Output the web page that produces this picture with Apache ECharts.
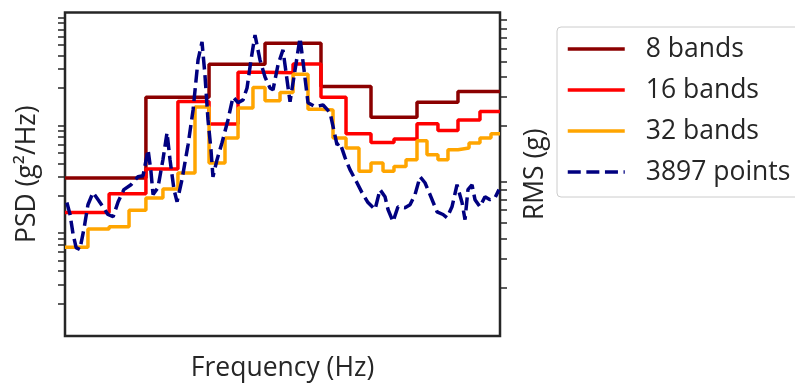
<!DOCTYPE html>
<html>
<head>
<meta charset="utf-8">
<script src="https://cdn.jsdelivr.net/npm/echarts@6/dist/echarts.min.js"></script>
<style>
html, body { margin: 0; padding: 0; background: #fff; }
#container { width: 795px; height: 387px; }
</style>
</head>
<body>
<div id="container"></div>
<script>
// band edges in Hz for 32 bands (16 / 8 band edges are every 2nd / 4th one)
var bandEdges = [20, 25.5, 31.9, 39.4, 47.1, 56.4, 66.1, 79.2, 91.9, 108.8, 124.9,
    146.3, 166.2, 194.8, 223.6, 262, 300.6, 341.4, 391.8, 449.4, 510.4, 579.6, 651,
    739.4, 830.6, 923.4, 1037, 1153, 1282, 1441, 1618, 1818, 2000];

var psd8 = [2.92e-3, 1.64e-2, 3.32e-2, 5.20e-2, 2.06e-2, 1.07e-2, 1.47e-2, 1.85e-2];

var psd16 = [1.40e-3, 2.09e-3, 3.54e-3, 1.50e-2, 9.24e-3, 2.80e-2, 2.77e-2, 3.34e-2,
    1.64e-2, 7.51e-3, 6.24e-3, 6.71e-3, 9.30e-3, 8.06e-3, 1.01e-2, 1.21e-2];

var psd32 = [6.66e-4, 9.85e-4, 1.03e-3, 1.47e-3, 1.91e-3, 2.31e-3, 3.25e-3, 1.33e-2,
    4.02e-3, 6.86e-3, 1.30e-2, 2.02e-2, 1.52e-2, 1.81e-2, 2.68e-2, 1.27e-2,
    1.25e-2, 6.86e-3, 5.54e-3, 3.37e-3, 4.02e-3, 3.37e-3, 3.74e-3, 4.32e-3,
    6.47e-3, 4.80e-3, 4.32e-3, 5.34e-3, 5.54e-3, 6.17e-3, 6.86e-3, 7.51e-3];

// raw PSD (thinned from the 3897 point curve)
var rawFreq = [20.4, 21.1, 21.8, 22.5, 23.4, 24.5, 25.5, 26.9, 28.4, 29.9, 31.5, 33.3,
    35.1, 37.3, 40.2, 43.3, 45.7, 48.2, 49.7, 50.8, 53.5, 56.4, 58.9, 60.8, 63.4, 65.5,
    69.0, 73.6, 77.6, 81.8, 85.3, 88.0, 90.9, 93.8, 95.8, 100, 105.4, 112.3, 118.4,
    124.9, 131.7, 137.4, 143.3, 149.5, 157.6, 166.2, 175.2, 180.9, 190.7, 201, 209.8,
    216.6, 228.4, 240.8, 251.2, 262, 282.2, 307.2, 330.8, 356.2, 367.8, 387.8, 408.6,
    440, 464, 494.4, 532.6, 561.4, 592, 611.2, 644.2, 679.2, 731.6, 771.4, 813.4, 857.6,
    904, 953.4, 1027, 1094, 1141, 1203, 1269, 1338, 1381, 1425, 1487, 1535, 1618, 1706,
    1799, 1897, 1979];
var rawPsd = [1.73e-3, 1.34e-3, 8.73e-4, 6.61e-4, 6.34e-4, 1.01e-3, 1.65e-3, 2.14e-3,
    1.84e-3, 1.58e-3, 1.34e-3, 1.28e-3, 1.76e-3, 2.28e-3, 2.53e-3, 3.00e-3, 3.07e-3,
    5.34e-3, 3.34e-3, 2.05e-3, 2.38e-3, 4.32e-3, 7.68e-3, 4.32e-3, 2.28e-3, 1.76e-3,
    2.82e-3, 5.94e-3, 1.25e-2, 3.64e-2, 5.34e-2, 2.64e-2, 1.01e-2, 5.34e-3, 3.00e-3,
    4.32e-3, 6.20e-3, 1.01e-2, 1.65e-2, 1.46e-2, 1.55e-2, 2.00e-2, 3.64e-2, 6.20e-2,
    3.64e-2, 2.53e-2, 2.00e-2, 1.92e-2, 3.27e-2, 4.51e-2, 2.38e-2, 1.49e-2, 2.94e-2,
    5.82e-2, 2.94e-2, 1.46e-2, 1.34e-2, 1.39e-2, 1.18e-2, 5.94e-3, 6.20e-3, 4.51e-3,
    3.49e-3, 2.64e-3, 2.14e-3, 1.73e-3, 1.49e-3, 2.28e-3, 1.96e-3, 1.49e-3, 1.15e-3,
    1.58e-3, 1.55e-3, 1.65e-3, 2.05e-3, 3.00e-3, 2.64e-3, 2.05e-3, 1.42e-3, 1.34e-3,
    1.25e-3, 1.58e-3, 2.53e-3, 1.73e-3, 1.20e-3, 2.28e-3, 2.53e-3, 1.84e-3, 1.58e-3,
    1.96e-3, 1.84e-3, 1.92e-3, 2.28e-3];

// minor tick positions (no labels on the original)
var psdTicks = [2e-4, 3e-4, 4e-4, 5e-4, 6e-4, 7e-4, 8e-4, 9e-4,
    2e-3, 3e-3, 4e-3, 5e-3, 6e-3, 7e-3, 8e-3, 9e-3,
    2e-2, 3e-2, 4e-2, 5e-2, 6e-2, 7e-2, 8e-2, 9e-2];
var rmsTicks = [2, 3, 4, 5, 6, 7, 8, 9, 20, 30, 40, 50, 60, 70, 80, 90];

var textColor = '#262626';
var fontName = 'Open Sans';
var lw = 3.5;

function bandLine(edges, values) {
    var d = values.map(function (v, i) { return [edges[i], v]; });
    d.push([edges[edges.length - 1], values[values.length - 1]]);
    return d;
}

var edges16 = bandEdges.filter(function (e, i) { return i % 2 === 0; });
var edges8 = bandEdges.filter(function (e, i) { return i % 4 === 0; });

var myChart = echarts.init(document.getElementById('container'));

function yAxisBase(min, max, ticks) {
    return {
        type: 'log',
        logBase: 10,
        min: min,
        max: max,
        nameLocation: 'middle',
        nameRotate: 90,
        nameTextStyle: { fontFamily: fontName, fontSize: 26.5, color: textColor },
        axisLine: { show: false },
        axisLabel: { show: false },
        splitLine: { show: false },
        axisTick: {
            show: true,
            length: 7,
            customValues: ticks,
            lineStyle: { color: textColor, width: 1.5 }
        }
    };
}

var yLeft = yAxisBase(1e-4, 1e-1, psdTicks);
yLeft.name = 'PSD (g²/Hz)';
yLeft.position = 'left';
yLeft.nameGap = 24;

var yRight = yAxisBase(1, 100, rmsTicks);
yRight.name = 'RMS (g)';
yRight.position = 'right';
yRight.nameGap = 22;

var option = {
    backgroundColor: '#fff',
    animation: false,
    grid: {
        left: 65, right: 295, top: 12.6, bottom: 50.4,
        show: true,
        borderColor: textColor,
        borderWidth: 2.5,
        backgroundColor: 'transparent'
    },
    xAxis: {
        type: 'log',
        logBase: 10,
        min: 20,
        max: 2000,
        name: 'Frequency (Hz)',
        nameLocation: 'middle',
        nameGap: 19,
        nameTextStyle: { fontFamily: fontName, fontSize: 26.5, color: textColor },
        axisLine: { show: false },
        axisTick: { show: false },
        axisLabel: { show: false },
        splitLine: { show: false }
    },
    yAxis: [yLeft, yRight],
    legend: {
        orient: 'vertical',
        left: 557,
        top: 27,
        padding: [7, 20, 10, 9],
        itemGap: 11,
        itemWidth: 57,
        itemHeight: 14,
        borderColor: '#cccccc',
        borderWidth: 1,
        borderRadius: 4,
        itemStyle: { opacity: 0 },
        lineStyle: { width: lw },
        textStyle: {
            fontFamily: fontName, fontSize: 26.5, color: textColor,
            lineHeight: 30, padding: [0, 0, 0, 16]
        },
        data: ['8 bands', '16 bands', '32 bands', '3897 points']
    },
    series: [
        {
            name: '8 bands', type: 'line', step: 'end', symbol: 'none',
            data: bandLine(edges8, psd8),
            lineStyle: { color: '#8b0000', width: lw }, itemStyle: { color: '#8b0000' }
        },
        {
            name: '16 bands', type: 'line', step: 'end', symbol: 'none',
            data: bandLine(edges16, psd16),
            lineStyle: { color: '#ff0000', width: lw }, itemStyle: { color: '#ff0000' }
        },
        {
            name: '32 bands', type: 'line', step: 'end', symbol: 'none',
            data: bandLine(bandEdges, psd32),
            lineStyle: { color: '#ffa500', width: lw }, itemStyle: { color: '#ffa500' }
        },
        {
            name: '3897 points', type: 'line', symbol: 'none',
            data: rawFreq.map(function (f, i) { return [f, rawPsd[i]]; }),
            lineStyle: { color: '#000080', width: lw, type: [13, 5.6] }, itemStyle: { color: '#000080' }
        }
    ]
};

myChart.setOption(option);
</script>
</body>
</html>
